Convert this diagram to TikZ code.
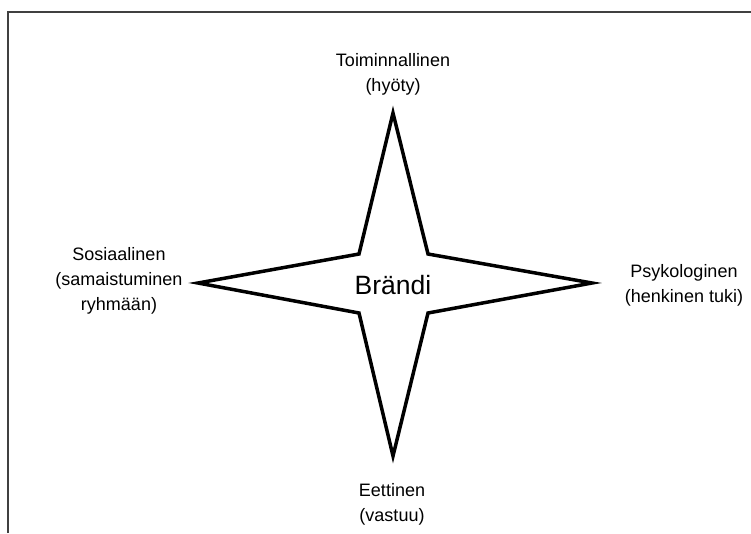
\documentclass[tikz,border=0pt]{standalone}
\usepackage{fontspec}
\setmainfont{Liberation Sans}
\begin{document}
\begin{tikzpicture}[x=1pt,y=-1pt,
  lbl/.style={align=center,inner sep=0pt,font=\fontsize{18}{25}\selectfont},
  starline/.style={draw=black,line width=3.5pt,line join=miter}]
\useasboundingbox (0,0) rectangle (751,533);
% frame
\draw[line width=2pt,black!75] (8,533) -- (8,12) -- (751,12);
% star
\coordinate (T) at (393,113);
\coordinate (R) at (592,283);
\coordinate (B) at (393,456);
\coordinate (L) at (198,283);
\coordinate (ur) at (428,254);
\coordinate (lr) at (428,313);
\coordinate (ll) at (359,313);
\coordinate (ul) at (359,254);
\draw[starline,fill=white] (T) -- (ur) -- (R) -- (lr) -- (B) -- (ll) -- (L) -- (ul) -- cycle;
\node[lbl,font=\fontsize{26.5}{30}\selectfont] (brand) at (393,285) {Brändi};
\node[lbl] (top) at (393,74) {Toiminnallinen\\(hyöty)};
\node[lbl] (right) at (684,285) {Psykologinen\\(henkinen tuki)};
\node[lbl] (left) at (119,281) {Sosiaalinen\\(samaistuminen\\ryhmään)};
\node[lbl] (bottom) at (392,504) {Eettinen\\(vastuu)};
\end{tikzpicture}
\end{document}
